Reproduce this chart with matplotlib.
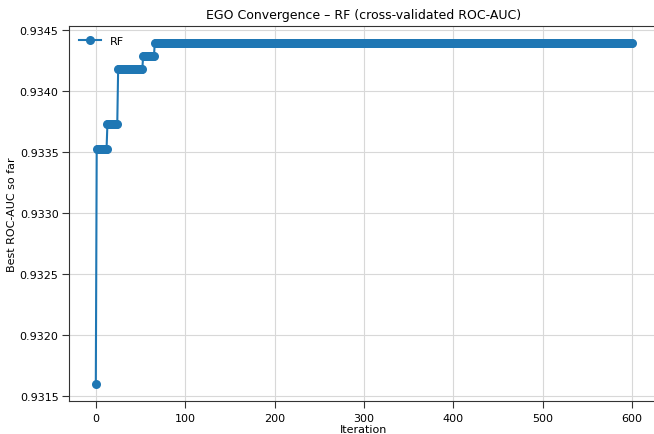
import numpy as np
import matplotlib.pyplot as plt

# best-so-far ROC-AUC: (first iteration of each level, value)
step_starts = [0, 1, 13, 25, 53, 66]
step_values = [0.93160, 0.93352, 0.93373, 0.93418, 0.93428, 0.93439]
n_iter = 601

iters = np.arange(n_iter)
best = np.empty(n_iter)
for i, (s, v) in enumerate(zip(step_starts, step_values)):
    e = step_starts[i + 1] if i + 1 < len(step_starts) else n_iter
    best[s:e] = v

fig = plt.figure(figsize=(6.54, 4.35), dpi=100)
# right edge of the axes runs just past the picture, as in the original
ax = fig.add_axes([0.1055, 0.076, 0.902, 0.862])

ax.plot(iters, best, marker='o', markersize=6.5, markeredgewidth=0,
        linewidth=1.5, color='#1f77b4', label='RF', snap=False)

ax.set_title('EGO Convergence – RF (cross-validated ROC-AUC)', fontsize=9)
ax.set_xlabel('Iteration', fontsize=8, labelpad=1)
ax.set_ylabel('Best ROC-AUC so far', fontsize=8, labelpad=2)
ax.tick_params(labelsize=8, length=5, color='#333333')
ax.tick_params(axis='y', pad=2.5)
ax.set_xticks([0, 100, 200, 300, 400, 500, 600])
ax.set_yticks([0.9315, 0.9320, 0.9325, 0.9330, 0.9335, 0.9340, 0.9345])
ax.yaxis.set_major_formatter(plt.FormatStrFormatter('%.4f'))
ax.grid(True, color='#d8d8d8', linewidth=0.8)
for sp in ax.spines.values():
    sp.set_color('#333333')

ax.legend(loc='upper left', frameon=False, fontsize=8)

fig.savefig('out.png', dpi=100)
